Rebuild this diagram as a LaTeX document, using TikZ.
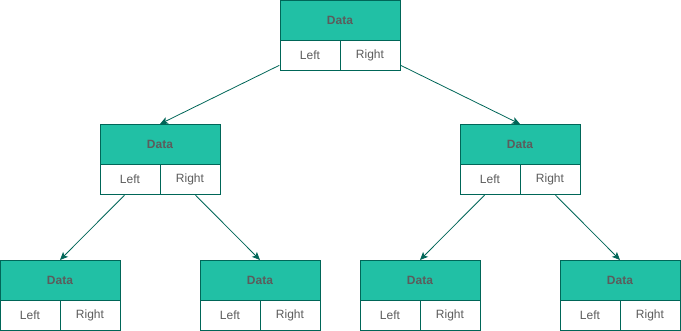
\documentclass[tikz,border=0pt]{standalone}
\usepackage{fontspec}
\setmainfont{Liberation Sans}
\usetikzlibrary{arrows.meta,fit}
\definecolor{datafill}{HTML}{21C0A5}
\definecolor{boxline}{HTML}{006658}
\definecolor{labeltext}{HTML}{5C5C5C}
\begin{document}
\begin{tikzpicture}[x=1pt,y=-1pt,
    datacell/.style={draw=boxline, fill=datafill, line width=1pt, minimum width=120pt, minimum height=40pt,
      inner sep=0pt, text=labeltext, font=\fontsize{12}{14}\selectfont\bfseries},
    ptrcell/.style={draw=boxline, fill=white, line width=1pt, minimum width=60pt, minimum height=30pt,
      inner sep=0pt, text=labeltext, font=\fontsize{12}{14}\selectfont},
    link/.style={draw=boxline, line width=0.8pt, -{Stealth[length=8pt,width=7pt,inset=2pt]}}]
    \useasboundingbox (0,0) rectangle (681,331);

    % 树节点
    \foreach \n/\x/\y in {T/340/0.5, A/160/124.5, B/520/124.5,
        AA/60/260.5, AB/260/260.5, BA/420/260.5, BB/620/260.5} {
      \node[datacell] (\n-d) at (\x,\y+20) {Data};
      \node[ptrcell] (\n-l) at (\x-30,\y+55) {Left};
      \node[ptrcell] (\n-r) at (\x+30,\y+55) {Right};
      \node[fit=(\n-d)(\n-l)(\n-r), inner sep=0pt] (\n) {};
    }

    % 连线
    \draw[link] (T) -- (A-d.north);
    \draw[link] (T) -- (B-d.north);
    \draw[link] (A) -- (AA-d.north);
    \draw[link] (A) -- (AB-d.north);
    \draw[link] (B) -- (BA-d.north);
    \draw[link] (B) -- (BB-d.north);
\end{tikzpicture}
\end{document}
